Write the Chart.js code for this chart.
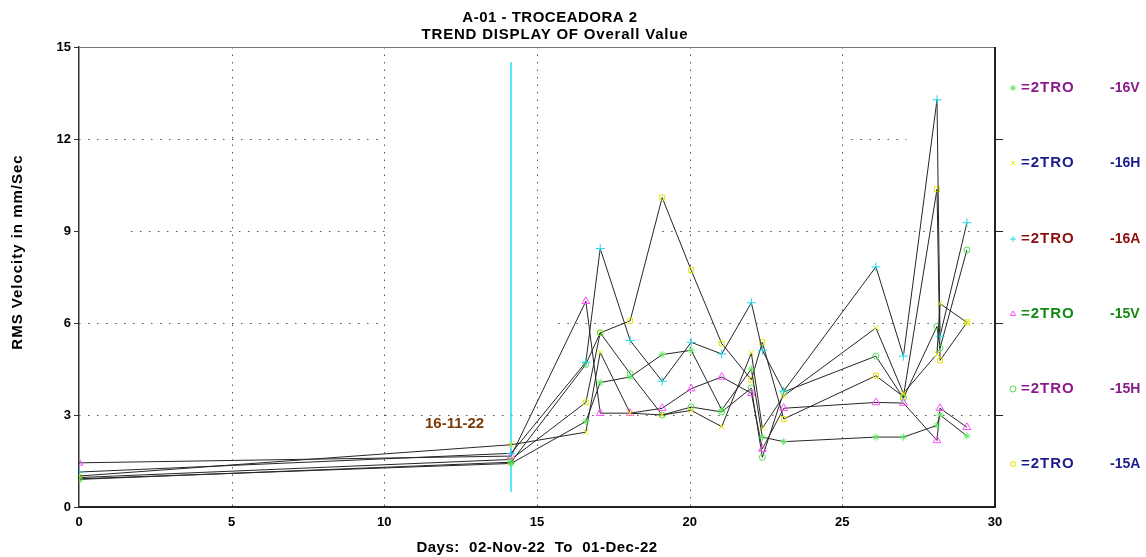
<!DOCTYPE html>
<html><head><meta charset="utf-8">
<script src="https://cdn.jsdelivr.net/npm/chart.js@4.4.0/dist/chart.umd.min.js"></script>
<style>html,body{margin:0;padding:0;background:#fff;}#wrap{width:1146px;height:557px;}</style>
</head><body><div id="wrap"><canvas id="c" width="1146" height="557"></canvas></div>
<script>
// ---- data ----
const days = [0, 14.15, 16.6, 17.07, 18.05, 19.1, 20.05, 21.05, 22.02, 22.38, 23.08, 26.1, 27.0, 28.1, 28.2, 29.08];
const v16V = [0.92, 1.42, 2.79, 4.06, 4.24, 4.97, 5.11, 3.17, 4.50, 2.28, 2.13, 2.28, 2.28, 2.66, 3.00, 2.32];
const v16H = [1.01, 2.03, 2.44, 5.04, 3.06, 3.00, 3.15, 2.62, 5.02, 2.57, 3.62, 5.84, 3.71, 4.99, 6.63, 6.02];
const v16A = [1.14, 1.75, 4.72, 8.43, 5.43, 4.10, 5.37, 4.99, 6.66, 5.11, 3.78, 7.83, 4.92, 13.28, 5.57, 9.27];
const v15V = [1.44, 1.66, 6.71, 3.06, 3.06, 3.22, 3.86, 4.24, 3.71, 1.89, 3.22, 3.41, 3.39, 2.17, 3.22, 2.60];
const v15H = [0.90, 1.46, 4.65, 5.68, 4.35, 3.00, 3.26, 3.10, 3.88, 1.62, 3.75, 4.92, 3.55, 5.89, 5.18, 8.38];
const v15A = [0.96, 1.55, 3.41, 5.68, 6.07, 10.09, 7.72, 5.33, 4.15, 5.37, 2.87, 4.28, 3.60, 10.36, 4.78, 6.02];
const seriesSuffix = ['-16V', '-16H', '-16A', '-15V', '-15H', '-15A'];
const legendPrefix = '=2TRO';
const xTicks = [0, 5, 10, 15, 20, 25, 30];
const yTicks = [0, 3, 6, 9, 12, 15];
const titleLines = ['A-01 - TROCEADORA 2', 'TREND DISPLAY OF Overall Value'];
const yTitle = 'RMS Velocity in mm/Sec';
const xTitle = 'Days:  02-Nov-22  To  01-Dec-22';
const eventDay = 14.15;
const eventLabel = '16-11-22';

// ---- styles ----
const FONT = '"Liberation Sans", Arial, sans-serif';
const styles = [
  {ps: 'star',     r: 3.5, col: '#5ee65e', txt: '#8a1a8a'},
  {ps: 'crossRot', r: 4,   col: '#e8e800', txt: '#1c1c8c'},
  {ps: 'cross',    r: 4.5, col: '#22d8ee', txt: '#8b0f0f'},
  {ps: 'triangle', r: 4.5, col: '#ff4cff', txt: '#108a10'},
  {ps: 'circle',   r: 3,   col: '#4ee04e', txt: '#8a1a8a'},
  {ps: 'rect',     r: 3.5, col: '#e6e600', txt: '#1c1c8c'}
];
const allSeries = [v16V, v16H, v16A, v15V, v15H, v15A];

const datasets = allSeries.map((vals, i) => ({
  label: legendPrefix + ' ' + seriesSuffix[i],
  data: days.map((d, k) => ({x: d, y: vals[k]})),
  borderColor: '#262626',
  borderWidth: 1,
  tension: 0,
  fill: false,
  pointStyle: styles[i].ps,
  pointRadius: styles[i].r,
  pointBorderColor: styles[i].col,
  pointBackgroundColor: 'rgba(0,0,0,0)',
  pointBorderWidth: 1
}));

// dotted grid segments [value, [[from,to],...]]
const hGrid = [[3, [[0, 30]]], [6, [[0, 10], [15.7, 30]]], [9, [[1.7, 10.1], [19.1, 30]]], [12, [[0, 10], [25.3, 27.1]]]];
const vGrid = [5, 10, 15, 20, 25];

function txt(ctx, s, x, y, size, spacing) {
  ctx.font = 'bold ' + size + 'px ' + FONT;
  try { ctx.letterSpacing = spacing + 'px'; } catch (e) {}
  ctx.fillText(s, x, y);
  try { ctx.letterSpacing = '0px'; } catch (e) {}
}

const overlay = {
  id: 'overlay',
  beforeDatasetsDraw(chart) {
    const {ctx, chartArea: a, scales: {x, y}} = chart;
    ctx.save();
    ctx.strokeStyle = '#555';
    ctx.lineWidth = 1;
    ctx.setLineDash([1.5, 7.5]);
    hGrid.forEach(([val, segs]) => segs.forEach(([x0, x1]) => {
      const py = Math.round(y.getPixelForValue(val)) + 0.5;
      ctx.beginPath(); ctx.moveTo(x.getPixelForValue(x0), py); ctx.lineTo(x.getPixelForValue(x1), py); ctx.stroke();
    }));
    ctx.setLineDash([1.5, 6]);
    vGrid.forEach(val => {
      const px = Math.round(x.getPixelForValue(val)) + 0.5;
      ctx.beginPath(); ctx.moveTo(px, a.top); ctx.lineTo(px, a.bottom); ctx.stroke();
    });
    ctx.setLineDash([]);
    // event marker
    const ex = Math.round(x.getPixelForValue(eventDay));
    ctx.strokeStyle = '#28dcf0';
    ctx.lineWidth = 1.5;
    ctx.beginPath(); ctx.moveTo(ex, y.getPixelForValue(14.5)); ctx.lineTo(ex, y.getPixelForValue(0.5)); ctx.stroke();
    ctx.fillStyle = '#7a3a05';
    ctx.textAlign = 'center'; ctx.textBaseline = 'middle';
    txt(ctx, eventLabel, x.getPixelForValue(12.3), y.getPixelForValue(2.7), 15, 0);
    ctx.restore();
  },
  afterDraw(chart) {
    const {ctx, chartArea: a, scales: {x, y}} = chart;
    ctx.save();
    // top border
    ctx.strokeStyle = '#777'; ctx.lineWidth = 1;
    ctx.beginPath(); ctx.moveTo(a.left, a.top + 0.5); ctx.lineTo(a.right, a.top + 0.5); ctx.stroke();
    // right axis
    ctx.strokeStyle = '#222'; ctx.lineWidth = 2;
    ctx.beginPath(); ctx.moveTo(a.right, a.top); ctx.lineTo(a.right, a.bottom + 1); ctx.stroke();
    ctx.lineWidth = 1;
    [3, 6, 9, 12].forEach(v => {
      const py = Math.round(y.getPixelForValue(v)) + 0.5;
      ctx.beginPath(); ctx.moveTo(a.right, py); ctx.lineTo(a.right + 8, py); ctx.stroke();
    });
    // titles
    ctx.fillStyle = '#000';
    ctx.textAlign = 'center'; ctx.textBaseline = 'middle';
    txt(ctx, titleLines[0], 550, 18, 15, 0.5);
    txt(ctx, titleLines[1], 555, 35, 15, 0.8);
    txt(ctx, xTitle, 537, 548, 15, 0.5);
    ctx.save();
    ctx.translate(18, 252); ctx.rotate(-Math.PI / 2);
    txt(ctx, yTitle, 0, 0, 15, 1);
    ctx.restore();
    // legend
    const ly = [88, 163, 239, 314, 389, 464];
    styles.forEach((s, i) => {
      ctx.strokeStyle = s.col; ctx.fillStyle = 'rgba(0,0,0,0)'; ctx.lineWidth = 1;
      Chart.helpers.drawPoint(ctx, {pointStyle: s.ps, radius: 3, rotation: 0, borderWidth: 1}, 1013, ly[i]);
      ctx.fillStyle = s.txt;
      ctx.textAlign = 'left';
      txt(ctx, legendPrefix, 1021, ly[i], 15, 1);
      txt(ctx, seriesSuffix[i], 1110, ly[i], 14, 0);
    });
    ctx.restore();
  }
};

new Chart(document.getElementById('c'), {
  type: 'line',
  data: {datasets},
  options: {
    responsive: false,
    animation: false,
    devicePixelRatio: 1,
    layout: {padding: {left: 0, top: 47, right: 151, bottom: 0}},
    plugins: {legend: {display: false}, title: {display: false}, tooltip: {enabled: false}},
    scales: {
      x: {
        type: 'linear', min: 0, max: 30,
        afterBuildTicks: s => { s.ticks = xTicks.map(v => ({value: v})); },
        afterFit: s => { s.height = 50; },
        ticks: {color: '#000', font: {family: FONT, weight: 'bold', size: 13}, padding: 0},
        grid: {display: false},
        border: {display: true, color: '#222', width: 2}
      },
      y: {
        type: 'linear', min: 0, max: 15,
        afterBuildTicks: s => { s.ticks = yTicks.map(v => ({value: v})); },
        afterFit: s => { s.width = 79; },
        ticks: {color: '#000', font: {family: FONT, weight: 'bold', size: 13}, padding: 3},
        grid: {drawOnChartArea: false, drawTicks: true, tickLength: 5, color: '#333'},
        border: {display: true, color: '#333', width: 1.5}
      }
    }
  },
  plugins: [overlay]
});
</script>
</body></html>
